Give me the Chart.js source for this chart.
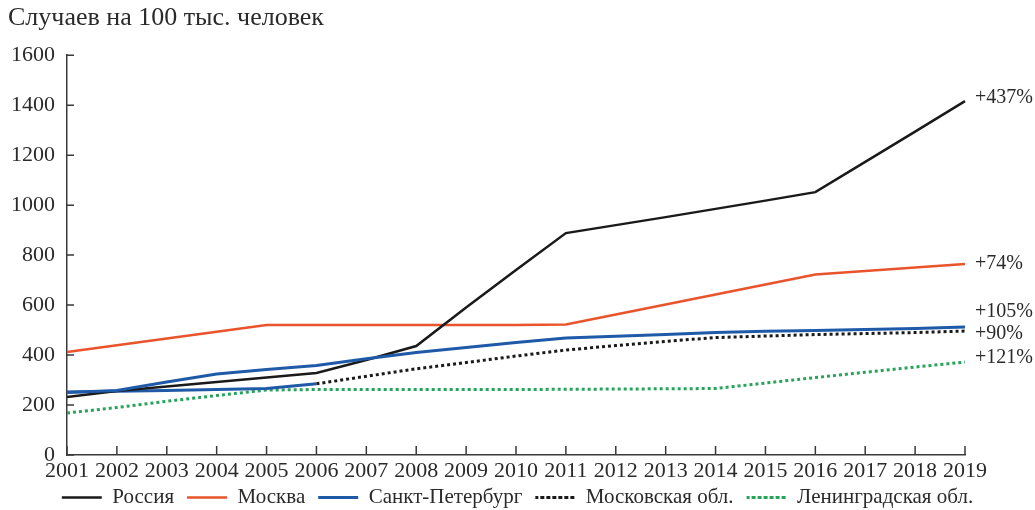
<!DOCTYPE html>
<html>
<head>
<meta charset="utf-8">
<script src="https://cdn.jsdelivr.net/npm/chart.js@4"></script>
<style>
  body { margin: 0; background: #fff; }
  #wrap { width: 1035px; height: 510px; }
</style>
</head>
<body>
<div id="wrap"><canvas id="chart"></canvas></div>
<script>
const years = ['2001','2002','2003','2004','2005','2006','2007','2008','2009','2010',
               '2011','2012','2013','2014','2015','2016','2017','2018','2019'];
const russia = [232, 256, 274, 292, 310, 328, 380, 436, 590, 740, 888, 920, 952, 985, 1018, 1052, 1173, 1294, 1416];
const moscow = [412, 439, 466, 493, 520, 520, 520, 520, 520, 520, 522, 562, 602, 642, 682, 722, 736, 750, 764];
const spb    = [250, 258, 292, 324, 342, 358, 385, 410, 430, 450, 468, 475, 482, 490, 495, 498, 502, 506, 512];
const mosObl = [252, 255, 258, 262, 266, 285, 315, 345, 370, 396, 420, 438, 455, 470, 476, 482, 486, 490, 496];
const lenObl = [168, 190, 215, 238, 260, 262, 262, 262, 262, 262, 263, 264, 265, 266, 288, 310, 331, 352, 372];
const seriesNames = ['Россия', 'Москва', 'Санкт-Петербург', 'Московская обл.', 'Ленинградская обл.'];
const growth = ['+437%', '+74%', '+105%', '+90%', '+121%'];

const FONT = '"Liberation Serif", "DejaVu Serif", serif';
const BLUE = '#1f5aa8';

// подписи прироста справа от последних точек
const endLabels = {
  id: 'endLabels',
  afterDatasetsDraw(chart) {
    const ctx = chart.ctx;
    const dy = [-3, 0, -15, 3, -4];
    ctx.save();
    ctx.font = '20px ' + FONT;
    ctx.fillStyle = '#2a2a2a';
    ctx.textBaseline = 'middle';
    chart.data.datasets.forEach((ds, i) => {
      const meta = chart.getDatasetMeta(i);
      const pt = meta.data[meta.data.length - 1];
      ctx.fillText(growth[i], pt.x + 10, pt.y + dy[i]);
    });
    ctx.restore();
  }
};

// короткие засечки внутрь области графика
const innerTicks = {
  id: 'innerTicks',
  afterDraw(chart) {
    const ctx = chart.ctx;
    const x = chart.scales.x, y = chart.scales.y;
    ctx.save();
    ctx.strokeStyle = '#3a3a3a';
    ctx.lineWidth = 1.5;
    ctx.beginPath();
    y.ticks.forEach((t, i) => {
      const py = y.getPixelForTick(i);
      ctx.moveTo(x.left, py);
      ctx.lineTo(x.left + 7, py);
    });
    x.ticks.forEach((t, i) => {
      const px = x.getPixelForTick(i);
      ctx.moveTo(px, y.bottom);
      ctx.lineTo(px, y.bottom - 9);
    });
    ctx.stroke();
    ctx.restore();
  }
};

// легенда пониже и поплотнее, чтобы влезла под ось
const legendHeight = {
  id: 'legendHeight',
  afterInit(chart) {
    const lg = chart.legend;
    const fit = lg.fit.bind(lg);
    const draw = lg.draw.bind(lg);
    lg.fit = function () { fit(); this.height = 26; };
    lg.draw = function () {
      this.top -= 8;
      draw();
      this.top += 8;
    };
  }
};

function chart() {
  const ctx = document.getElementById('chart').getContext('2d');
  new Chart(ctx, {
    type: 'line',
    data: {
      labels: years,
      datasets: [
        { label: seriesNames[0], data: russia, borderColor: '#1a1a1a', backgroundColor: '#1a1a1a', borderWidth: 2.5 },
        { label: seriesNames[1], data: moscow, borderColor: '#e9542c', backgroundColor: '#e9542c', borderWidth: 2.5 },
        { label: seriesNames[2], data: spb, borderColor: BLUE, backgroundColor: BLUE, borderWidth: 3, order: -1 },
        { label: seriesNames[3], data: mosObl, borderColor: '#1a1a1a', backgroundColor: '#1a1a1a', borderWidth: 3,
          borderDash: [3, 3],
          segment: {
            borderColor: c => c.p1DataIndex <= 5 ? BLUE : undefined,
            borderDash: c => c.p1DataIndex <= 5 ? [] : undefined
          } },
        { label: seriesNames[4], data: lenObl, borderColor: '#27a35a', backgroundColor: '#27a35a', borderWidth: 3,
          borderDash: [3, 3] }
      ]
    },
    options: {
      responsive: false,
      animation: false,
      devicePixelRatio: 1,
      layout: { padding: { left: 8, right: 8, top: 0, bottom: 2 } },
      elements: { point: { radius: 0 }, line: { tension: 0 } },
      plugins: {
        tooltip: { enabled: false },
        title: {
          display: true,
          text: 'Случаев на 100 тыс. человек',
          align: 'start',
          color: '#2a2a2a',
          font: { family: FONT, size: 26, weight: 'normal' },
          padding: { top: 3, bottom: 21 }
        },
        legend: {
          position: 'bottom',
          labels: {
            color: '#2a2a2a',
            font: { family: FONT, size: 21 },
            boxWidth: 40,
            boxHeight: 0,
            padding: 13,
            sort: (a, b) => a.datasetIndex - b.datasetIndex
          }
        }
      },
      scales: {
        x: {
          offset: false,
          afterFit: s => { s.height = 27; },
          grid: { display: false, drawTicks: false },
          border: { color: '#3a3a3a', width: 1.5 },
          ticks: { color: '#2a2a2a', font: { family: FONT, size: 22 }, maxRotation: 0, autoSkip: false, padding: 3 }
        },
        y: {
          min: 0, max: 1600,
          afterFit: s => { s.width = 59; },
          grid: { display: false, drawTicks: false },
          border: { color: '#3a3a3a', width: 1.5 },
          ticks: { stepSize: 200, color: '#2a2a2a', font: { family: FONT, size: 22 }, padding: 12,
                   callback: v => String(v) }
        },
        yRight: {
          position: 'right',
          min: 0, max: 1600,
          afterFit: s => { s.width = 62; },
          grid: { display: false, drawTicks: false },
          border: { display: false },
          ticks: { display: false }
        }
      }
    },
    plugins: [endLabels, innerTicks, legendHeight]
  });
}

window.addEventListener('DOMContentLoaded', () => {
  const c = document.getElementById('chart');
  c.width = 1035; c.height = 510;
  chart();
});
</script>
</body>
</html>
